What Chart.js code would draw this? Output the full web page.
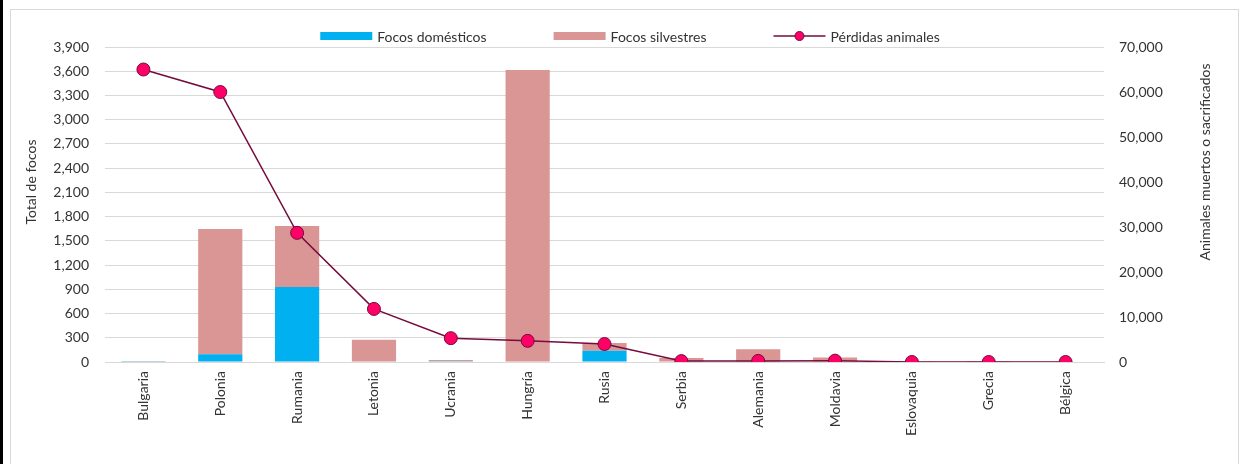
<!DOCTYPE html>
<html>
<head>
<meta charset="utf-8">
<script src="https://cdn.jsdelivr.net/npm/chart.js@4.4.1/dist/chart.umd.min.js"></script>
<style>
    html, body { margin: 0; padding: 0; background: #fff; }
    #wrap { position: relative; width: 1241px; height: 464px; overflow: hidden; }
    #strip { position: absolute; left: 0; top: 0; width: 3px; height: 464px; background: #000; }
    #frame { position: absolute; left: 10px; top: 9px; width: 1227px; height: 480px; border: 1px solid #d9d9d9; }
    #chart-focos { position: absolute; left: 0; top: 0; }
</style>
</head>
<body>
<div id="wrap">
    <div id="strip"></div>
    <div id="frame"></div>
    <canvas id="chart-focos" width="1241" height="464"></canvas>
</div>
<script>
// Datos
const paises = ['Bulgaria', 'Polonia', 'Rumania', 'Letonia', 'Ucrania', 'Hungría', 'Rusia',
    'Serbia', 'Alemania', 'Moldavia', 'Eslovaquia', 'Grecia', 'Bélgica'];
const focosDomesticos = [10, 96, 928, 0, 10, 0, 138, 0, 0, 0, 0, 0, 0];
const focosSilvestres = [3, 1550, 755, 275, 15, 3614, 97, 49, 158, 57, 8, 1, 0];
const perdidasAnimales = [65000, 60000, 28700, 11800, 5300, 4700, 4000, 200, 250, 300, 0, 0, 0];

const FONT = 'Lato';
const TEXT = '#333333';
const GRID = '#d9d9d9';

// Legend + axis titles drawn by hand to match the original placement
const extrasPlugin = {
    id: 'extras',
    afterDraw(chart) {
        const ctx = chart.ctx;
        ctx.save();
        ctx.fillStyle = TEXT;
        ctx.font = '14px ' + FONT;
        ctx.textBaseline = 'middle';

        // axis titles (both read bottom to top)
        ctx.textAlign = 'center';
        ctx.save();
        ctx.translate(31, 182);
        ctx.rotate(-Math.PI / 2);
        ctx.fillText('Total de focos', 0, 0);
        ctx.restore();
        ctx.save();
        ctx.translate(1205, 162);
        ctx.rotate(-Math.PI / 2);
        ctx.fillText('Animales muertos o sacrificados', 0, 0);
        ctx.restore();

        // legend
        const ds = chart.data.datasets;
        const items = [ds[1], ds[2], ds[0]];
        const boxW = 52, gapText = 5, gapItem = 67, y = 36;
        let total = 0;
        items.forEach(d => { total += boxW + gapText + ctx.measureText(d.label).width; });
        total += gapItem * (items.length - 1);
        let x = 630 - total / 2;
        ctx.textAlign = 'left';
        items.forEach(d => {
            if (d.type === 'line') {
                ctx.strokeStyle = d.borderColor;
                ctx.lineWidth = 1.5;
                ctx.beginPath();
                ctx.moveTo(x, y);
                ctx.lineTo(x + boxW, y);
                ctx.stroke();
                ctx.beginPath();
                ctx.arc(x + boxW / 2, y, 4.5, 0, Math.PI * 2);
                ctx.fillStyle = d.pointBackgroundColor;
                ctx.fill();
                ctx.lineWidth = 1;
                ctx.stroke();
            } else {
                ctx.fillStyle = d.backgroundColor;
                ctx.fillRect(x, y - 4, boxW, 8);
            }
            ctx.fillStyle = TEXT;
            ctx.fillText(d.label, x + boxW + gapText, y + 1);
            x += boxW + gapText + ctx.measureText(d.label).width + gapItem;
        });
        ctx.restore();
    }
};

const ctx = document.getElementById('chart-focos').getContext('2d');
new Chart(ctx, {
    data: {
        labels: paises,
        datasets: [{
            type: 'line',
            label: 'Pérdidas animales',
            data: perdidasAnimales,
            yAxisID: 'y1',
            borderColor: '#760b3d',
            borderWidth: 1.5,
            pointRadius: 6.5,
            pointBackgroundColor: '#ff0066',
            pointBorderColor: '#760b3d',
            pointBorderWidth: 1,
            tension: 0,
            order: 0
        }, {
            type: 'bar',
            label: 'Focos domésticos',
            data: focosDomesticos,
            backgroundColor: '#00b0f0',
            barPercentage: 0.575,
            categoryPercentage: 1,
            order: 1
        }, {
            type: 'bar',
            label: 'Focos silvestres',
            data: focosSilvestres,
            backgroundColor: '#d99694',
            barPercentage: 0.575,
            categoryPercentage: 1,
            order: 1
        }]
    },
    options: {
        responsive: false,
        animation: false,
        layout: {
            padding: { top: 47, left: 0, right: 0, bottom: 0 }
        },
        plugins: {
            legend: { display: false },
            tooltip: { enabled: false }
        },
        scales: {
            x: {
                stacked: true,
                grid: { display: false, drawTicks: false },
                border: { display: true, color: GRID, width: 1 },
                ticks: {
                    autoSkip: false,
                    maxRotation: 90,
                    minRotation: 90,
                    padding: 9,
                    color: TEXT,
                    font: { family: FONT, size: 14 }
                },
                afterFit: function(scale) { scale.height = 102; }
            },
            y: {
                stacked: true,
                position: 'left',
                min: 0,
                max: 3900,
                grid: { color: GRID, drawTicks: false },
                border: { display: false },
                ticks: {
                    stepSize: 300,
                    padding: 16,
                    color: TEXT,
                    font: { family: FONT, size: 14 },
                    callback: function(value) { return value.toLocaleString('en-US'); }
                },
                afterFit: function(scale) { scale.width = 105; }
            },
            y1: {
                stacked: false,
                position: 'right',
                min: 0,
                max: 70000,
                grid: { display: false, drawTicks: false },
                border: { display: false },
                ticks: {
                    stepSize: 10000,
                    padding: 15,
                    color: TEXT,
                    font: { family: FONT, size: 14 },
                    callback: function(value) { return value.toLocaleString('en-US'); }
                },
                afterFit: function(scale) { scale.width = 137; }
            }
        }
    },
    plugins: [extrasPlugin]
});
</script>
</body>
</html>
